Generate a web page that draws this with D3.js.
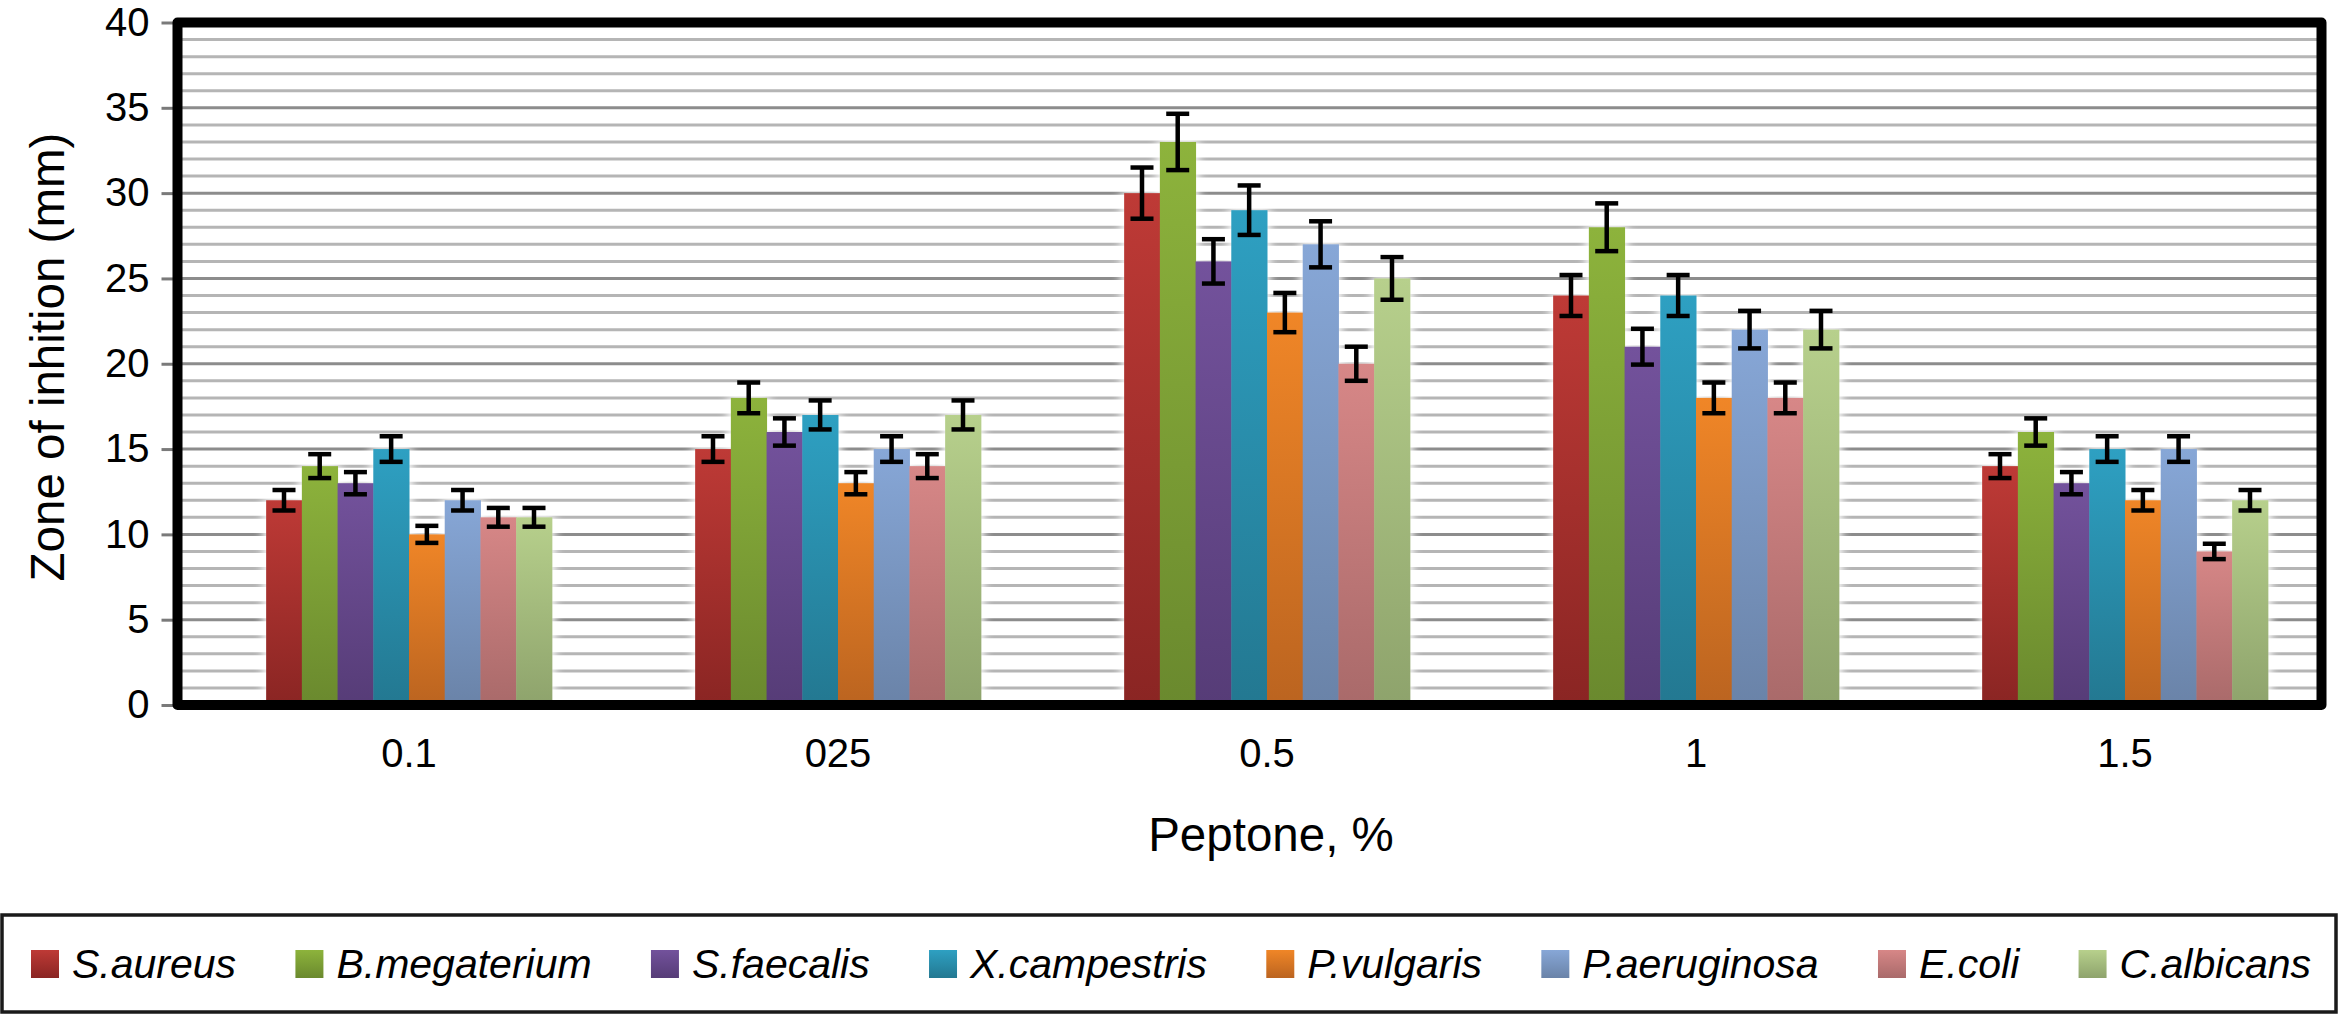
<!DOCTYPE html>
<html>
<head>
<meta charset="utf-8">
<script src="https://cdn.jsdelivr.net/npm/d3@7"></script>
<style>
  html, body { margin: 0; padding: 0; background: #fff; }
  svg { display: block; }
  text { font-family: "Liberation Sans", Arial, Helvetica, sans-serif; fill: #000; }
</style>
</head>
<body>
<svg id="chart" width="2340" height="1015"></svg>
<script>
// ---------------- data ----------------
const categories = ["0.1", "025", "0.5", "1", "1.5"];
const seriesNames = ["S.aureus", "B.megaterium", "S.faecalis", "X.campestris",
                     "P.vulgaris", "P.aeruginosa", "E.coli", "C.albicans"];

const sAureus     = [12, 15, 30, 24, 14];
const bMegaterium = [14, 18, 33, 28, 16];
const sFaecalis   = [13, 16, 26, 21, 13];
const xCampestris = [15, 17, 29, 24, 15];
const pVulgaris   = [10, 13, 23, 18, 12];
const pAeruginosa = [12, 15, 27, 22, 15];
const eColi       = [11, 14, 20, 18, 9];
const cAlbicans   = [11, 17, 25, 22, 12];

const errSAureus     = [0.6, 0.75, 1.5, 1.2, 0.7];
const errBMegaterium = [0.7, 0.9, 1.65, 1.4, 0.8];
const errSFaecalis   = [0.65, 0.8, 1.3, 1.05, 0.65];
const errXCampestris = [0.75, 0.85, 1.45, 1.2, 0.75];
const errPVulgaris   = [0.5, 0.65, 1.15, 0.9, 0.6];
const errPAeruginosa = [0.6, 0.75, 1.35, 1.1, 0.75];
const errEColi       = [0.55, 0.7, 1.0, 0.9, 0.45];
const errCAlbicans   = [0.55, 0.85, 1.25, 1.1, 0.6];

const yTicks = [0, 5, 10, 15, 20, 25, 30, 35, 40];

const seriesValues = [sAureus, bMegaterium, sFaecalis, xCampestris, pVulgaris, pAeruginosa, eColi, cAlbicans];
const seriesErrors = [errSAureus, errBMegaterium, errSFaecalis, errXCampestris, errPVulgaris, errPAeruginosa, errEColi, errCAlbicans];

// ---------------- styles ----------------
const colorsTop    = ["#BE3A36", "#8DB33C", "#73529C", "#2EA0C2", "#F08627", "#87A7D7", "#D78787", "#B7D08C"];
const colorsBottom = ["#8A2523", "#6A892E", "#563C77", "#237891", "#BB6420", "#6A83A8", "#A96A6A", "#8EA36C"];

const svg = d3.select("#chart");

const box = { left: 177.5, right: 2321.5, top: 22.5, bottom: 705 };

const x = d3.scaleBand()
  .domain(categories)
  .range([194.5, 2339.5])
  .paddingInner(0.334)
  .paddingOuter(0.167);

const xs = d3.scaleBand()
  .domain(seriesNames)
  .range([0, x.bandwidth()])
  .padding(0);

const y = d3.scaleLinear().domain([0, 40]).range([box.bottom, box.top]);

// defs
const defs = svg.append("defs");
seriesNames.forEach((s, i) => {
  const g = defs.append("linearGradient")
    .attr("id", "grad" + i)
    .attr("x1", 0).attr("y1", 0).attr("x2", 0).attr("y2", 1);
  g.append("stop").attr("offset", "0%").attr("stop-color", colorsTop[i]);
  g.append("stop").attr("offset", "100%").attr("stop-color", colorsBottom[i]);
});
const f = defs.append("filter").attr("id", "glow")
  .attr("x", "-50%").attr("y", "-10%").attr("width", "200%").attr("height", "120%");
f.append("feGaussianBlur").attr("stdDeviation", 5);

// gridlines
const gridVals = d3.range(1, 40);
svg.append("g").selectAll("line").data(gridVals).join("line")
  .attr("x1", box.left).attr("x2", box.right)
  .attr("y1", d => y(d)).attr("y2", d => y(d))
  .attr("stroke", d => d % 5 === 0 ? "#8c8c8c" : "#b5b5b5")
  .attr("stroke-width", 3);

// y axis via d3.axisLeft
const yAxis = d3.axisLeft(y).tickValues(yTicks).tickSize(12).tickPadding(12).tickFormat(d3.format("d"));
const gy = svg.append("g").attr("transform", `translate(${box.left - 4},0)`).call(yAxis);
gy.select(".domain").remove();
gy.selectAll(".tick line").attr("stroke", "#7a7a7a").attr("stroke-width", 3);
gy.selectAll(".tick text").attr("font-size", 40).attr("font-family", "Liberation Sans, Arial, sans-serif").attr("fill", "#000");

// bars
const rows = [];
categories.forEach((c, ci) => {
  seriesNames.forEach((s, si) => {
    rows.push({ c, s, si, v: seriesValues[si][ci], e: seriesErrors[si][ci] });
  });
});

const barsG = svg.append("g");
barsG.selectAll("rect.glow").data(rows).join("rect").attr("class", "glow")
  .attr("x", d => x(d.c) + xs(d.s) - 3)
  .attr("y", d => y(d.v) - 2)
  .attr("width", xs.bandwidth() + 6)
  .attr("height", d => y(0) - y(d.v) + 2)
  .attr("fill", "#fff")
  .attr("filter", "url(#glow)");

barsG.selectAll("rect.bar").data(rows).join("rect").attr("class", "bar")
  .attr("x", d => x(d.c) + xs(d.s))
  .attr("y", d => y(d.v))
  .attr("width", xs.bandwidth() + 0.5)
  .attr("height", d => y(0) - y(d.v))
  .attr("fill", d => `url(#grad${d.si})`);

// error bars
const capW = 23;
const eb = svg.append("g").attr("stroke", "#000").attr("stroke-width", 4.5);
rows.forEach(d => {
  const cx = x(d.c) + xs(d.s) + xs.bandwidth() / 2;
  eb.append("line").attr("x1", cx).attr("x2", cx).attr("y1", y(d.v - d.e)).attr("y2", y(d.v + d.e));
  eb.append("line").attr("x1", cx - capW / 2).attr("x2", cx + capW / 2).attr("y1", y(d.v + d.e)).attr("y2", y(d.v + d.e));
  eb.append("line").attr("x1", cx - capW / 2).attr("x2", cx + capW / 2).attr("y1", y(d.v - d.e)).attr("y2", y(d.v - d.e));
});

// plot border
svg.append("rect")
  .attr("x", box.left).attr("y", box.top)
  .attr("width", box.right - box.left).attr("height", box.bottom - box.top)
  .attr("fill", "none").attr("stroke", "#000").attr("stroke-width", 10)
  .attr("stroke-linejoin", "round");

// x axis labels via axisBottom
const xAxis = d3.axisBottom(x).tickSize(0).tickPadding(0);
const gx = svg.append("g").attr("transform", `translate(0, 767)`).call(xAxis);
gx.select(".domain").remove();
gx.selectAll(".tick text").attr("font-size", 40).attr("dy", 0)
  .attr("font-family", "Liberation Sans, Arial, sans-serif").attr("fill", "#000");

// axis titles
svg.append("text")
  .attr("transform", "translate(64,357) rotate(-90)")
  .attr("text-anchor", "middle")
  .attr("font-size", 47.5)
  .text("Zone of inhition (mm)");

svg.append("text")
  .attr("x", 1271).attr("y", 851)
  .attr("text-anchor", "middle")
  .attr("font-size", 47.5)
  .text("Peptone, %");

// legend
const leg = { left: 2, top: 915, right: 2336, bottom: 1012 };
svg.append("rect")
  .attr("x", leg.left).attr("y", leg.top)
  .attr("width", leg.right - leg.left).attr("height", leg.bottom - leg.top)
  .attr("fill", "#fff").attr("stroke", "#1a1a1a").attr("stroke-width", 3.5);

const lg = svg.append("g");
const items = seriesNames.map((s, i) => {
  const g = lg.append("g");
  g.append("rect").attr("width", 28).attr("height", 28).attr("y", 950).attr("fill", `url(#grad${i})`);
  const t = g.append("text").attr("x", 41).attr("y", 978)
    .attr("font-size", 41).attr("font-style", "italic").text(s);
  return { g, w: 41 + t.node().getComputedTextLength() };
});
const totalW = d3.sum(items, d => d.w);
const startX = 31, endX = 2311;
const gap = (endX - startX - totalW) / (items.length - 1);
let cur = startX;
items.forEach(it => {
  it.g.attr("transform", `translate(${cur},0)`);
  cur += it.w + gap;
});
</script>
</body>
</html>
